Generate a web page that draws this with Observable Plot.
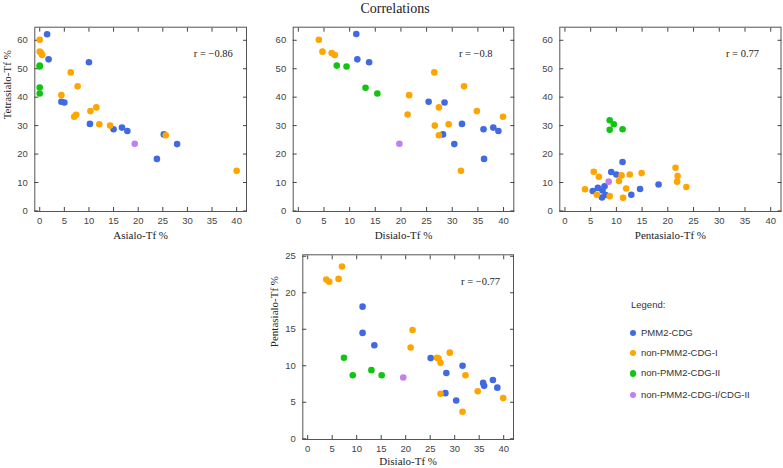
<!DOCTYPE html>
<html><head><meta charset="utf-8">
<script src="https://cdn.jsdelivr.net/npm/d3@7"></script>
<script src="https://cdn.jsdelivr.net/npm/@observablehq/plot@0.6"></script>
<style>
body{margin:0;background:#fff;}
#wrap{position:relative;width:783px;height:468px;overflow:hidden;background:#fff;}
.panel{position:absolute;}
#title{position:absolute;left:0;width:790px;top:0;text-align:center;font-family:"Liberation Serif",serif;font-size:14px;line-height:17px;color:#222;}
.leg{position:absolute;font-family:"Liberation Sans",sans-serif;font-size:9.5px;color:#333;line-height:12px;white-space:nowrap;}
.sw{display:inline-block;width:6.5px;height:6.5px;border-radius:50%;margin-right:5px;vertical-align:-0.5px;}
</style></head><body>
<div id="wrap"><div id="title">Correlations</div></div>
<script>
const groupNames = ["PMM2-CDG", "non-PMM2-CDG-I", "non-PMM2-CDG-II", "non-PMM2-CDG-I/CDG-II"];
const groupColors = ["#4169e1", "#ffa500", "#12c412", "#c080f0"];
const groupCounts = [12, 15, 4, 1];
const group = groupCounts.flatMap((n, k) => Array(n).fill(groupNames[k]));
const xTicks = [0, 5, 10, 15, 20, 25, 30, 35, 40];
const yTicksTop = [0, 10, 20, 30, 40, 50, 60];
const yTicksBottom = [0, 5, 10, 15, 20, 25];

// Panel 1: Asialo vs Tetrasialo
const asialo1 = [1.5,1.8,10.0,4.4,5.0,10.2,15.0,16.7,17.8,25.2,27.9,23.8, 0.0,0.0,0.3,0.5,6.3,7.7,4.4,11.5,10.3,7.4,7.0,12.1,14.3,25.6,40.0, 0.0,0.0,0.0,0.0, 19.3];
const tetra1  = [62.1,53.3,52.3,38.4,38.1,30.6,28.7,29.3,28.1,26.9,23.5,18.3, 60.2,56.0,55.5,54.8,48.7,43.8,40.7,36.4,35.1,33.8,33.1,30.5,30.0,26.6,14.1, 51.1,50.8,43.4,41.3, 23.6];
// Panel 2: Disialo vs Tetrasialo
const disialo2 = [11.3,11.5,13.8,25.4,28.5,31.9,36.1,38.0,39.0,28.2,30.4,36.2, 4.0,4.7,6.5,7.1,26.5,32.3,21.6,27.4,34.8,21.3,39.9,29.3,26.6,27.4,31.7, 7.5,9.4,13.1,15.4, 19.7];
const tetra2   = [62.2,53.3,52.3,38.4,38.1,30.6,28.7,29.3,28.1,26.9,23.5,18.3, 60.2,56.0,55.5,54.8,48.7,43.8,40.7,36.4,35.1,33.9,33.1,30.5,30.0,26.6,14.1, 51.1,50.8,43.3,41.3, 23.6];
// Panel 3: Pentasialo vs (unlabelled)
const penta3 = [11.2,9.0,10.0,18.2,7.7,6.4,5.4,7.3,14.6,12.9,7.2,7.9, 5.6,6.6,3.9,6.2,8.7,11.0,10.5,11.9,12.6,14.9,11.3,21.5,21.9,21.8,23.6, 8.7,9.5,8.7,11.2, 8.5];
const other3 = [17.2,13.7,12.8,9.3,8.7,8.1,7.0,7.2,7.7,5.7,4.7,5.6, 13.8,12.0,7.6,5.7,5.2,12.5,10.5,7.9,12.8,13.3,4.6,15.2,12.3,10.3,8.4, 31.9,30.5,28.5,28.7, 10.3];
// Panel 4: Disialo vs Pentasialo
const disialo4 = [11.2,11.2,13.6,25.1,31.6,28.3,35.8,36.0,37.8,38.7,28.1,30.3, 7.0,3.8,4.4,6.3,21.4,21.0,29.0,26.4,26.7,27.1,32.2,34.7,27.1,39.9,31.6, 7.4,9.2,13.0,15.1, 19.5];
const penta4   = [18.1,14.5,12.8,11.05,10.0,9.0,7.65,7.25,8.06,7.0,6.25,5.25, 23.6,21.8,21.5,21.9,14.9,12.5,11.8,11.1,11.0,10.4,8.7,6.5,6.16,5.57,3.7, 11.1,8.7,9.4,8.7, 8.4];

const panels = [
  {x: asialo1, y: tetra1, xLabel: "Asialo-Tf %", yLabel: "Tetrasialo-Tf %", r: "r = \u22120.86",
   left: 0, top: 0, width: 258, height: 245, ml: 34.3, mr: 12, mt: 26.7, mb: 34, yDomain: [-0.2, 64.6], yTicks: yTicksTop, rY: 55.3, ldx: -27.6, ldy: 24},
  {x: disialo2, y: tetra2, xLabel: "Disialo-Tf %", yLabel: null, r: "r = \u22120.8",
   left: 258, top: 0, width: 262, height: 245, ml: 34.7, mr: 6.7, mt: 26.7, mb: 34, yDomain: [-0.2, 64.6], yTicks: yTicksTop, rY: 55.3, ldx: -27.6, ldy: 24},
  {x: penta3, y: other3, xLabel: "Pentasialo-Tf %", yLabel: null, r: "r = 0.77",
   left: 520, top: 0, width: 263, height: 245, ml: 39.3, mr: 2.5, mt: 26.7, mb: 34, yDomain: [-0.2, 64.6], yTicks: yTicksTop, rY: 55.3, ldx: -27.6, ldy: 24},
  {x: disialo4, y: penta4, xLabel: "Disialo-Tf %", yLabel: "Pentasialo-Tf %", r: "r = \u22120.77",
   left: 250, top: 245, width: 270, height: 223, ml: 52.3, mr: 7, mt: 9.3, mb: 29, yDomain: [-0.1, 25.2], yTicks: yTicksBottom, rY: 21.5, ldx: -28.3, ldy: 22.3}
];

const wrap = document.getElementById("wrap");
for (const p of panels) {
  const data = p.x.map((v, i) => ({x: v, y: p.y[i], g: group[i]}));
  const marks = [
    Plot.frame({stroke: "#555"}),
    Plot.axisX({ticks: xTicks, tickSize: -4, tickPadding: 10, label: null, color: "#444"}),
    Plot.axisX({anchor: "top", ticks: xTicks, tickSize: -4, tickFormat: () => "", label: null, color: "#444"}),
    Plot.axisY({ticks: p.yTicks, tickSize: -4, tickPadding: 11, label: null, color: "#444"}),
    Plot.axisY({anchor: "right", ticks: p.yTicks, tickSize: -4, tickFormat: () => "", label: null, color: "#444"}),
    Plot.dot(data, {x: "x", y: "y", fill: "g", r: 3.3}),
    Plot.text([p.r], {x: 31.3, y: p.rY, text: d => d, textAnchor: "start", fontFamily: "Liberation Serif", fontSize: 10.5, fill: "#222"}),
    Plot.text([p.xLabel], {frameAnchor: "bottom", dy: p.ldy, text: d => d, fontFamily: "Liberation Serif", fontSize: 11, fill: "#222", lineAnchor: "middle"})
  ];
  if (p.yLabel) marks.push(Plot.text([p.yLabel], {frameAnchor: "left", dx: p.ldx, rotate: -90, text: d => d, fontFamily: "Liberation Serif", fontSize: 11, fill: "#222", lineAnchor: "middle"}));
  const chart = Plot.plot({
    width: p.width, height: p.height,
    marginLeft: p.ml, marginRight: p.mr, marginTop: p.mt, marginBottom: p.mb,
    style: {fontFamily: "Liberation Sans", fontSize: "9.5px", color: "#333", background: "transparent", overflow: "visible"},
    x: {domain: [-1, 42]},
    y: {domain: p.yDomain},
    color: {domain: groupNames, range: groupColors},
    marks
  });
  const d = document.createElement("div");
  d.className = "panel";
  d.style.left = p.left + "px";
  d.style.top = p.top + "px";
  d.appendChild(chart);
  wrap.appendChild(d);
}

// Legend
const legTitle = document.createElement("div");
legTitle.className = "leg";
legTitle.style.left = "631px";
legTitle.style.top = "299px";
legTitle.textContent = "Legend:";
wrap.appendChild(legTitle);
const legY = [332.7, 352.9, 373.3, 394.7];
groupNames.forEach((name, i) => {
  const it = document.createElement("div");
  it.className = "leg";
  it.style.left = "629.5px";
  it.style.top = (legY[i] - 6) + "px";
  const sw = document.createElement("span");
  sw.className = "sw";
  sw.style.background = groupColors[i];
  it.appendChild(sw);
  it.appendChild(document.createTextNode(name));
  wrap.appendChild(it);
});
</script>
</body></html>
